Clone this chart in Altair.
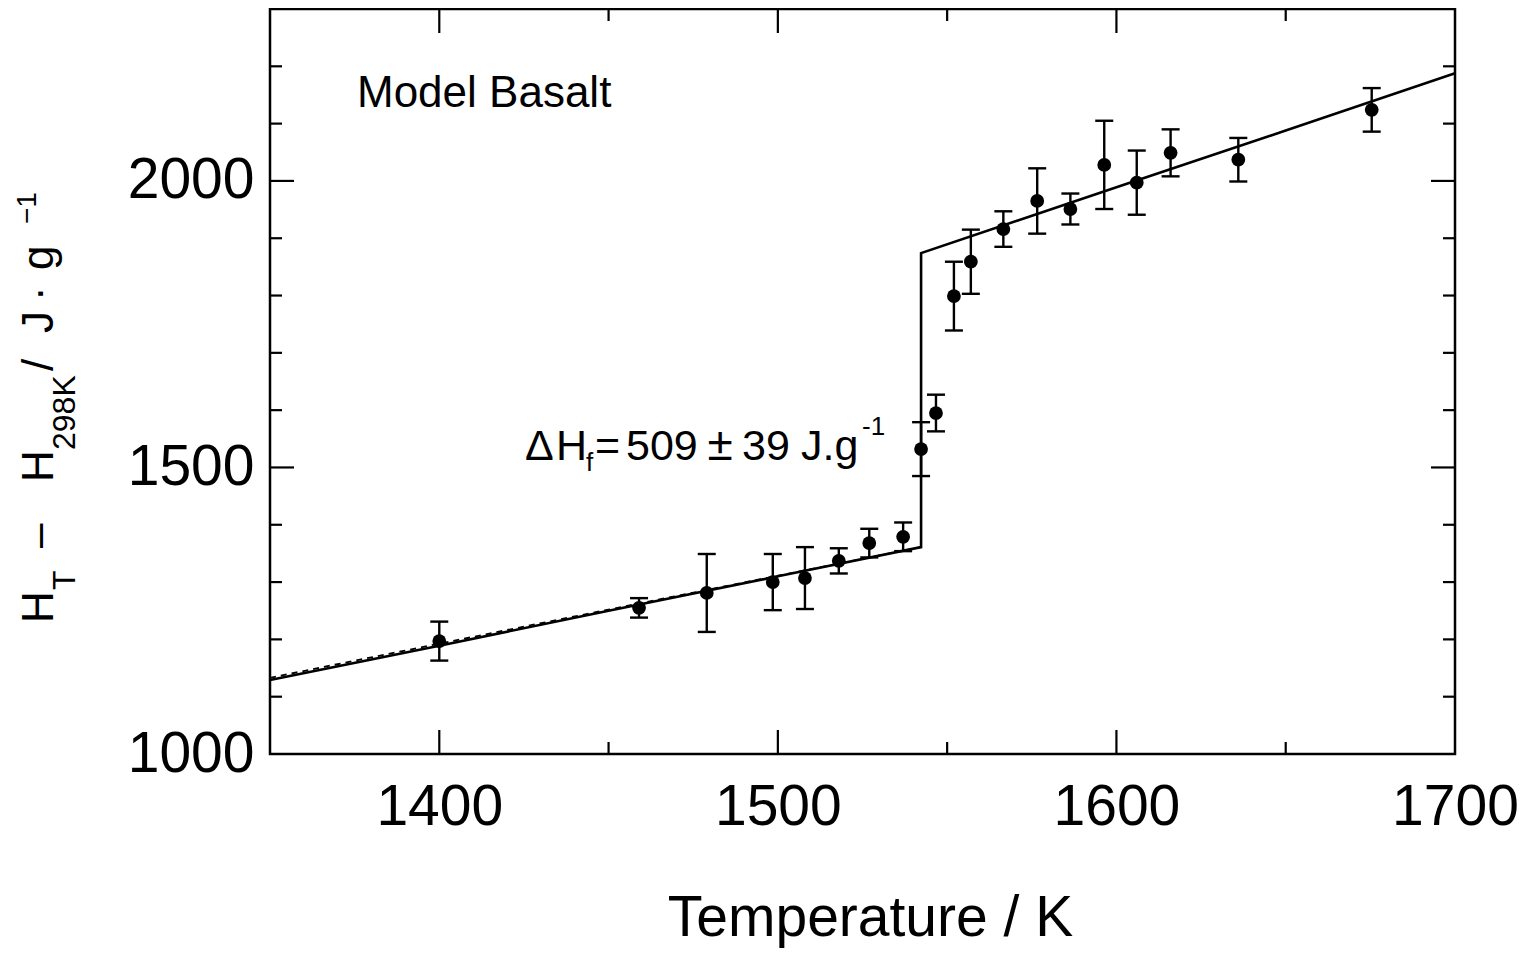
import altair as alt
import pandas as pd

# ---------------- data ----------------
temp_K = [1400, 1459, 1479, 1498.5, 1508, 1518, 1527, 1537, 1542.3, 1546.7,
          1552, 1557, 1566.6, 1576.6, 1586.4, 1596.4, 1606, 1616, 1636, 1675.4]
enthalpy = [1197, 1255, 1281, 1300, 1307, 1337, 1368, 1379, 1532, 1595,
            1799, 1859, 1916, 1965, 1951, 2028, 1997, 2049, 2037, 2124]
err = [34, 17, 68, 49, 54, 22, 25, 25, 47, 32,
       60, 56, 31, 57, 27, 77, 56, 41, 38, 38]

fit_T = [1350, 1400, 1450, 1500, 1542.3, 1542.3, 1600, 1650, 1700]
fit_H = [1129, 1189, 1250, 1310, 1361, 1874, 1989, 2088, 2188]

dash_T = [1350, 1450, 1542.3]
dash_H = [1133, 1252, 1361]

x_major = [1400, 1500, 1600]
x_minor = [1450, 1550, 1650]
y_major = [1500, 2000]
y_minor = [1100, 1200, 1300, 1400, 1600, 1700, 1800, 1900, 2100, 2200]
x_labels = [1400, 1500, 1600, 1700]
y_labels = [1000, 1500, 2000]

# ---------------- layout ----------------
W, H = 1185, 745
FONT = "Liberation Sans"

xs = alt.Scale(domain=[1350, 1700], nice=False, zero=False)
ys = alt.Scale(domain=[1000, 2300], nice=False, zero=False)

pts = pd.DataFrame({"T": temp_K, "H": enthalpy, "e": err})
pts["lo"] = pts["H"] - pts["e"]
pts["hi"] = pts["H"] + pts["e"]
fit = pd.DataFrame({"T": fit_T, "H": fit_H, "i": range(len(fit_T))})
dash = pd.DataFrame({"T": dash_T, "H": dash_H, "i": range(len(dash_T))})

xaxis = alt.Axis(values=x_labels, format="d", labelFont=FONT, labelFontSize=57,
                 labelPadding=25, labelFlush=False, labelOverlap=False,
                 ticks=False, tickSize=0, domain=False, grid=False,
                 labelColor="black",
                 title="Temperature / K", titleFont=FONT, titleFontSize=57,
                 titleFontWeight="normal", titleColor="black",
                 titleY=181, titleX=600, titleAlign="center",
                 titleBaseline="alphabetic")
yaxis = alt.Axis(values=y_labels, format="d", labelFont=FONT, labelFontSize=57,
                 labelPadding=16, labelFlush=False, labelOverlap=False,
                 ticks=False, tickSize=0, domain=False, grid=False,
                 labelColor="black", title=None)

line = alt.Chart(fit).mark_line(color="black", strokeWidth=2.6).encode(
    x=alt.X("T:Q", scale=xs, axis=xaxis),
    y=alt.Y("H:Q", scale=ys, axis=yaxis),
    order="i:Q",
)
dline = alt.Chart(dash).mark_line(color="black", strokeWidth=1.8,
                                  strokeDash=[6, 5]).encode(
    x=alt.X("T:Q", scale=xs), y=alt.Y("H:Q", scale=ys), order="i:Q")

bars = alt.Chart(pts).mark_rule(color="black", strokeWidth=2.4).encode(
    x=alt.X("T:Q", scale=xs), y=alt.Y("lo:Q", scale=ys), y2="hi:Q")
cap_lo = alt.Chart(pts).mark_tick(color="black", orient="horizontal", size=18,
                                  thickness=2.4, opacity=1).encode(
    x=alt.X("T:Q", scale=xs), y=alt.Y("lo:Q", scale=ys))
cap_hi = alt.Chart(pts).mark_tick(color="black", orient="horizontal", size=18,
                                  thickness=2.4, opacity=1).encode(
    x=alt.X("T:Q", scale=xs), y=alt.Y("hi:Q", scale=ys))
dots = alt.Chart(pts).mark_circle(color="black", size=190, opacity=1).encode(
    x=alt.X("T:Q", scale=xs), y=alt.Y("H:Q", scale=ys))


def xticks(vals, length, top):
    d = pd.DataFrame({"T": vals})
    if top:
        y0, y1 = 0, length
    else:
        y0, y1 = H, H - length
    return alt.Chart(d).mark_rule(color="black", strokeWidth=2.2).encode(
        x=alt.X("T:Q", scale=xs), y=alt.value(y0), y2=alt.value(y1))


def yticks(vals, length, right):
    d = pd.DataFrame({"H": vals})
    if right:
        x0, x1 = W, W - length
    else:
        x0, x1 = 0, length
    return alt.Chart(d).mark_rule(color="black", strokeWidth=2.2).encode(
        y=alt.Y("H:Q", scale=ys), x=alt.value(x0), x2=alt.value(x1))


ticks = [
    xticks(x_major, 24, False), xticks(x_minor, 12, False),
    xticks(x_major, 24, True), xticks(x_minor, 12, True),
    yticks(y_major, 24, False), yticks(y_minor, 12, False),
    yticks(y_major, 24, True), yticks(y_minor, 12, True),
]


def txt(s, x, y, size, angle=0, align="left"):
    return alt.Chart(pd.DataFrame({"t": [s]})).mark_text(
        font=FONT, fontSize=size, angle=angle, align=align,
        baseline="alphabetic", color="black").encode(
        text="t:N", x=alt.value(x), y=alt.value(y))


labels = [
    txt("Model Basalt", 87, 98, 44),
    # Delta H_f annotation
    txt("\u0394", 255, 451, 43),
    txt("H", 286, 451, 43),
    txt("f", 316, 462, 26),
    txt("=", 325, 451, 43),
    txt("509", 356, 451, 43),
    txt("\u00b1", 450, 451, 46, align="center"),
    txt("39", 472, 451, 43),
    txt("J.g", 531, 451, 43),
    txt("-1", 592, 426, 26),
    # y-axis title, rotated
    txt("H", -217, 614, 44, angle=270),
    txt("T", -195, 581, 32, angle=270),
    txt("\u2013", -217, 539, 44, angle=270),
    txt("H", -217, 473, 44, angle=270),
    txt("298K", -195, 441, 32, angle=270),
    txt("/", -217, 362, 44, angle=270),
    txt("J", -217, 324, 44, angle=270),
    txt("\u00b7", -217, 292, 44, angle=270),
    txt("g", -217, 261, 44, angle=270),
    txt("\u22121", -234, 215, 28, angle=270),
]

chart = alt.layer(line, dline, bars, cap_lo, cap_hi, dots, *ticks, *labels).properties(
    width=W, height=H,
    autosize=alt.AutoSizeParams(type="none"),
    padding={"left": 262, "top": 1, "right": 66, "bottom": 196},
    background="white",
).configure_view(stroke="black", strokeWidth=2.5)

chart.save("out.html", embed_options={"renderer": "svg", "actions": False})
